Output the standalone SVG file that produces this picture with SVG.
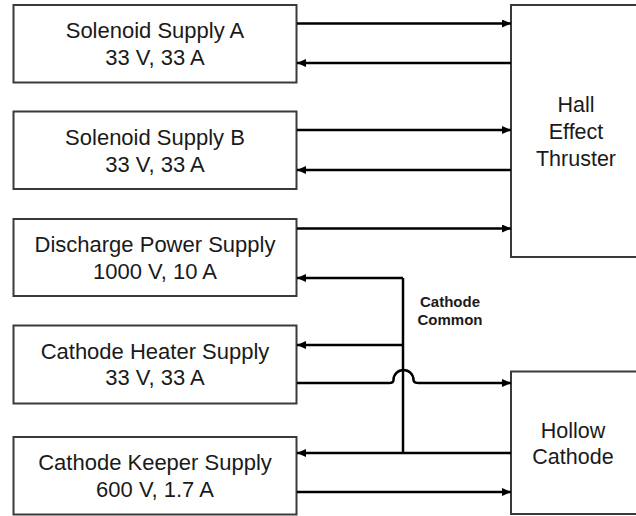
<svg xmlns="http://www.w3.org/2000/svg" width="636" height="516" viewBox="0 0 636 516">
<defs>
<marker id="ah" markerWidth="9" markerHeight="8" refX="9" refY="4" orient="auto" markerUnits="userSpaceOnUse">
<path d="M0,0 L9,4 L0,8 Z" fill="#000"/>
</marker>
<style>
.box{fill:#fff;stroke:#3a3a3a;stroke-width:2}
.t{font-family:"Liberation Sans",Arial,sans-serif;font-size:22px;fill:#1a1a1a;text-anchor:middle}
.r{font-size:21.5px}
.c{fill:none;stroke:#000;stroke-width:2.5}
.a{marker-end:url(#ah)}
.lbl{font-family:"Liberation Sans",Arial,sans-serif;font-size:15px;font-weight:bold;fill:#1a1a1a;text-anchor:middle}
</style>
</defs>
<rect width="636" height="516" fill="#fff"/>
<g id="solenoid-a"><rect class="box" x="13.5" y="5" width="283" height="77.5"/>
<text class="t" x="155" y="38">Solenoid Supply A</text><text class="t" x="155" y="65">33 V, 33 A</text></g>
<g id="solenoid-b"><rect class="box" x="13.5" y="111.5" width="283" height="77.5"/>
<text class="t" x="155" y="145">Solenoid Supply B</text><text class="t" x="155" y="171.5">33 V, 33 A</text></g>
<g id="discharge"><rect class="box" x="13.5" y="219" width="283" height="77"/>
<text class="t" x="155" y="252">Discharge Power Supply</text><text class="t" x="155" y="279">1000 V, 10 A</text></g>
<g id="heater"><rect class="box" x="13.5" y="325.5" width="283" height="78"/>
<text class="t" x="155" y="358.5">Cathode Heater Supply</text><text class="t" x="155" y="385">33 V, 33 A</text></g>
<g id="keeper"><rect class="box" x="13.5" y="437" width="283" height="77.5"/>
<text class="t" x="155" y="470">Cathode Keeper Supply</text><text class="t" x="155" y="497">600 V, 1.7 A</text></g>
<g id="thruster"><rect class="box" x="511" y="5" width="140" height="252"/>
<text class="t r" x="576" y="112">Hall</text><text class="t r" x="576" y="138.5">Effect</text><text class="t r" x="576" y="165.5">Thruster</text></g>
<g id="hollow-cathode"><rect class="box" x="511" y="371.5" width="140" height="142.5"/>
<text class="t r" x="573" y="437.5">Hollow</text><text class="t r" x="573" y="464">Cathode</text></g>
<g id="connectors">
<path class="c a" d="M297,23.5 H511"/>
<path class="c a" d="M511,63 H297"/>
<path class="c a" d="M297,130 H511"/>
<path class="c a" d="M511,170 H297"/>
<path class="c a" d="M297,228.5 H511"/>
<path class="c a" d="M403,278 H297"/>
<path class="c" d="M403,278 V453"/>
<path class="c a" d="M403,345 H297"/>
<path class="c a" d="M297,383 H389 Q393.5,383 393.5,380 A10,10 0 0 1 413.5,380 Q413.5,383 419,383 H511"/>
<path class="c a" d="M511,453 H297"/>
<path class="c a" d="M297,492 H511"/>
<text class="lbl" x="450" y="307">Cathode</text>
<text class="lbl" x="450" y="325">Common</text>
</g>
</svg>
